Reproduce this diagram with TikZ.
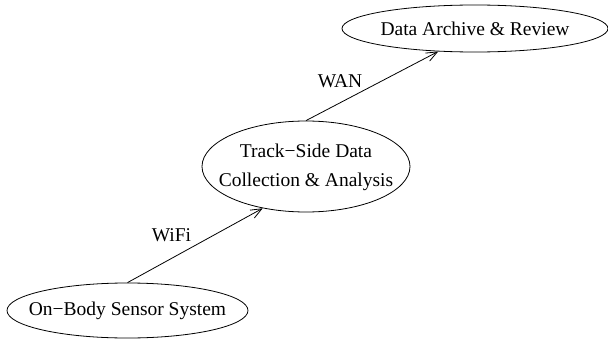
\documentclass[tikz,border=0pt]{standalone}
\usepackage{fontspec}
\setmainfont{Liberation Serif}
\usetikzlibrary{shapes.geometric,arrows.meta}
\begin{document}
\begin{tikzpicture}[x=1pt,y=1pt,line width=0.8pt,
        font=\fontsize{19.5}{29}\selectfont]
        % Styles
        \tikzset{station/.style={draw,ellipse,inner sep=0pt}}
        \tikzset{link/.style={-{Straight Barb[length=11pt,width=9pt]}}}
        \tikzset{link label/.style={inner sep=0pt}}
        \useasboundingbox (0,0) rectangle (608,341);
        %stations
        \node[station,minimum width=241,minimum height=55] (sensor) at (127.5,30.5)
            {\makebox[0pt]{On−Body Sensor System}};
        \node[station,minimum width=208,minimum height=91] (track) at (306,174.5)
            {\makebox[0pt]{\begin{tabular}{@{}c@{}}Track−Side Data\\Collection \& Analysis\end{tabular}}};
        \node[station,minimum width=266,minimum height=47] (archive) at (475,312.5)
            {\makebox[0pt]{Data Archive \& Review}};
        %links
        \draw[link] (sensor.north) -- (track.224);
        \draw[link] (track.north) -- (archive.212);
        \node[link label] (wifi) at (171.5,105.5) {WiFi};
        \node[link label] (wan) at (340,259.5) {WAN};
\end{tikzpicture}
\end{document}
